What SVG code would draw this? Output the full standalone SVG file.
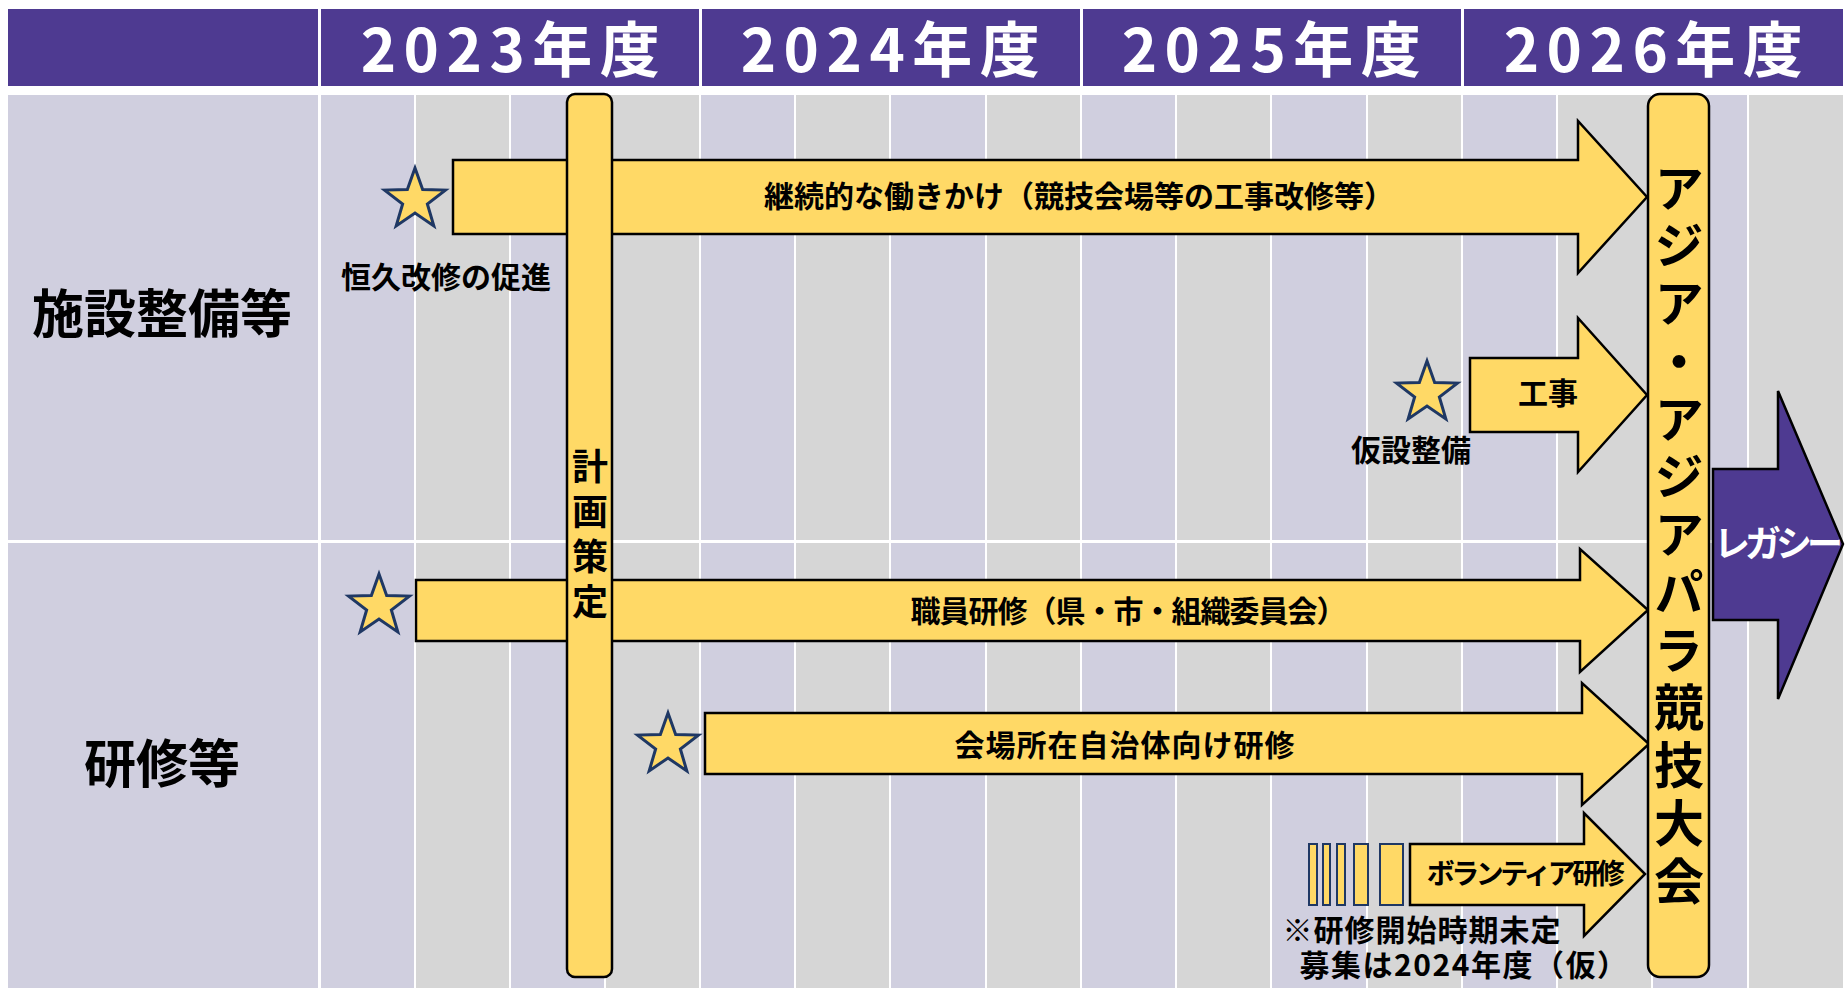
<svg xmlns="http://www.w3.org/2000/svg" width="1845" height="996" viewBox="0 0 1845 996">
<style>
.hd{fill:#4E3A91}
.lav{fill:#D0CFDF}
.gry{fill:#D6D6D6}
.yl{fill:#FFD966;stroke:#000;stroke-width:2.5;stroke-linejoin:miter}
.pu{fill:#4E3A91;stroke:#000;stroke-width:2.5}
.star{fill:#FFD966;stroke:#1F3864;stroke-width:3;stroke-linejoin:miter}
.sb{fill:#FFD966;stroke:#1F3864;stroke-width:2}
.t{font-family:"Noto Sans CJK JP","Noto Sans",sans-serif;font-weight:700;fill:#000;text-anchor:middle}
.yr{font-size:60px;fill:#fff;letter-spacing:7.5px}
.lb{font-size:52px}
.m{font-size:30px}
.v{writing-mode:vertical-rl;text-orientation:upright}
</style>
<defs>
<path id="starShape" d="M0,-32 L7.64,-10.52 L30.43,-9.89 L12.36,4.02 L18.81,25.89 L0,13 L-18.81,25.89 L-12.36,4.02 L-30.43,-9.89 L-7.64,-10.52 Z"/>
</defs>
<rect x="0" y="0" width="1845" height="996" fill="#fff"/>
<g id="header">
<rect class="hd" x="8" y="9" width="310" height="77"/>
<rect class="hd" x="321" y="9" width="378" height="77"/>
<rect class="hd" x="702" y="9" width="378" height="77"/>
<rect class="hd" x="1083" y="9" width="378" height="77"/>
<rect class="hd" x="1464" y="9" width="379" height="77"/>
<text class="t yr" x="514" y="72">2023年度</text>
<text class="t yr" x="894" y="72">2024年度</text>
<text class="t yr" x="1275" y="72">2025年度</text>
<text class="t yr" x="1657" y="72">2026年度</text>
</g>
<g id="grid">
<rect class="lav" x="8" y="95" width="310" height="445"/>
<rect class="lav" x="8" y="543" width="310" height="445"/>
<g id="row1">
<rect class="lav" x="321" y="95" width="93" height="445"/>
<rect class="gry" x="416" y="95" width="93" height="445"/>
<rect class="lav" x="511" y="95" width="93" height="445"/>
<rect class="gry" x="606" y="95" width="93" height="445"/>
<rect class="lav" x="701" y="95" width="93" height="445"/>
<rect class="gry" x="796" y="95" width="93" height="445"/>
<rect class="lav" x="891" y="95" width="94" height="445"/>
<rect class="gry" x="987" y="95" width="93" height="445"/>
<rect class="lav" x="1082" y="95" width="93" height="445"/>
<rect class="gry" x="1177" y="95" width="93" height="445"/>
<rect class="lav" x="1272" y="95" width="94" height="445"/>
<rect class="gry" x="1368" y="95" width="93" height="445"/>
<rect class="lav" x="1463" y="95" width="93" height="445"/>
<rect class="gry" x="1558" y="95" width="93" height="445"/>
<rect class="lav" x="1653" y="95" width="94" height="445"/>
<rect class="gry" x="1749" y="95" width="94" height="445"/>
</g>
<g id="row2">
<rect class="lav" x="321" y="543" width="93" height="445"/>
<rect class="gry" x="416" y="543" width="93" height="445"/>
<rect class="lav" x="511" y="543" width="93" height="445"/>
<rect class="gry" x="606" y="543" width="93" height="445"/>
<rect class="lav" x="701" y="543" width="93" height="445"/>
<rect class="gry" x="796" y="543" width="93" height="445"/>
<rect class="lav" x="891" y="543" width="94" height="445"/>
<rect class="gry" x="987" y="543" width="93" height="445"/>
<rect class="lav" x="1082" y="543" width="93" height="445"/>
<rect class="gry" x="1177" y="543" width="93" height="445"/>
<rect class="lav" x="1272" y="543" width="94" height="445"/>
<rect class="gry" x="1368" y="543" width="93" height="445"/>
<rect class="lav" x="1463" y="543" width="93" height="445"/>
<rect class="gry" x="1558" y="543" width="93" height="445"/>
<rect class="lav" x="1653" y="543" width="94" height="445"/>
<rect class="gry" x="1749" y="543" width="94" height="445"/>
</g>
<text class="t lb" x="162" y="333">施設整備等</text>
<text class="t lb" x="162" y="783">研修等</text>
</g>
<g id="connectors">
<g id="arrow-keizoku">
<polygon class="yl" points="453,160 1578,160 1578,121 1647,197 1578,273 1578,234 453,234"/>
<text class="t m" x="1079" y="207">継続的な働きかけ（競技会場等の工事改修等）</text>
</g>
<g id="arrow-kouji">
<polygon class="yl" points="1470,358 1578,358 1578,318 1647,395 1578,472 1578,432 1470,432"/>
<text class="t m" x="1548" y="404">工事</text>
</g>
<g id="arrow-shokuin">
<polygon class="yl" points="416,580 1580,580 1580,549 1648,610 1580,672 1580,641 416,641"/>
<text class="t m" x="1128" y="622" style="letter-spacing:-1px">職員研修（県・市・組織委員会）</text>
</g>
<g id="arrow-kaijo">
<polygon class="yl" points="705,713 1582,713 1582,683 1649,744 1582,805 1582,774 705,774"/>
<text class="t m" x="1125" y="756" style="letter-spacing:1px">会場所在自治体向け研修</text>
</g>
<g id="arrow-volunteer">
<rect class="sb" x="1309" y="844" width="8" height="61"/>
<rect class="sb" x="1323" y="844" width="7" height="61"/>
<rect class="sb" x="1337" y="844" width="8" height="61"/>
<rect class="sb" x="1354" y="844" width="14" height="61"/>
<rect class="sb" x="1380" y="844" width="23" height="61"/>
<polygon class="yl" points="1410,844 1584,844 1584,813 1645,874 1584,936 1584,905 1410,905"/>
<text class="t" x="1524" y="884" style="font-size:28px;letter-spacing:-3.5px">ボランティア研修</text>
</g>
<g id="arrow-legacy">
<polygon class="pu" points="1713,469 1778,469 1778,391 1843,544 1778,699 1778,620 1713,620"/>
<text class="t" x="1776" y="557" style="font-size:36px;fill:#fff;letter-spacing:-5px">レガシー</text>
</g>
</g>
<g id="node-keikaku">
<rect class="yl" x="567" y="94" width="45" height="883" rx="8"/>
<text class="t v" x="590" y="538" style="font-size:36px;letter-spacing:9px">計画策定</text>
</g>
<g id="node-taikai">
<rect class="yl" x="1648" y="94" width="61" height="883" rx="12"/>
<text class="t v" x="1679" y="538" style="font-size:50px;letter-spacing:7.75px">アジア・アジアパラ競技大会</text>
</g>
<g id="node-koukyu">
<use href="#starShape" class="star" x="415" y="200"/>
<text class="t m" x="446" y="288">恒久改修の促進</text>
</g>
<g id="node-kasetsu">
<use href="#starShape" class="star" x="1427" y="393"/>
<text class="t m" x="1411" y="461">仮設整備</text>
</g>
<g id="node-star-shokuin">
<use href="#starShape" class="star" x="379" y="606"/>
</g>
<g id="node-star-kaijo">
<use href="#starShape" class="star" x="668" y="745"/>
</g>
<g id="note">
<text class="t m" x="1422" y="941" style="letter-spacing:1px">※研修開始時期未定</text>
<text class="t m" x="1464" y="976" style="letter-spacing:1.5px">募集は2024年度（仮）</text>
</g>
</svg>
